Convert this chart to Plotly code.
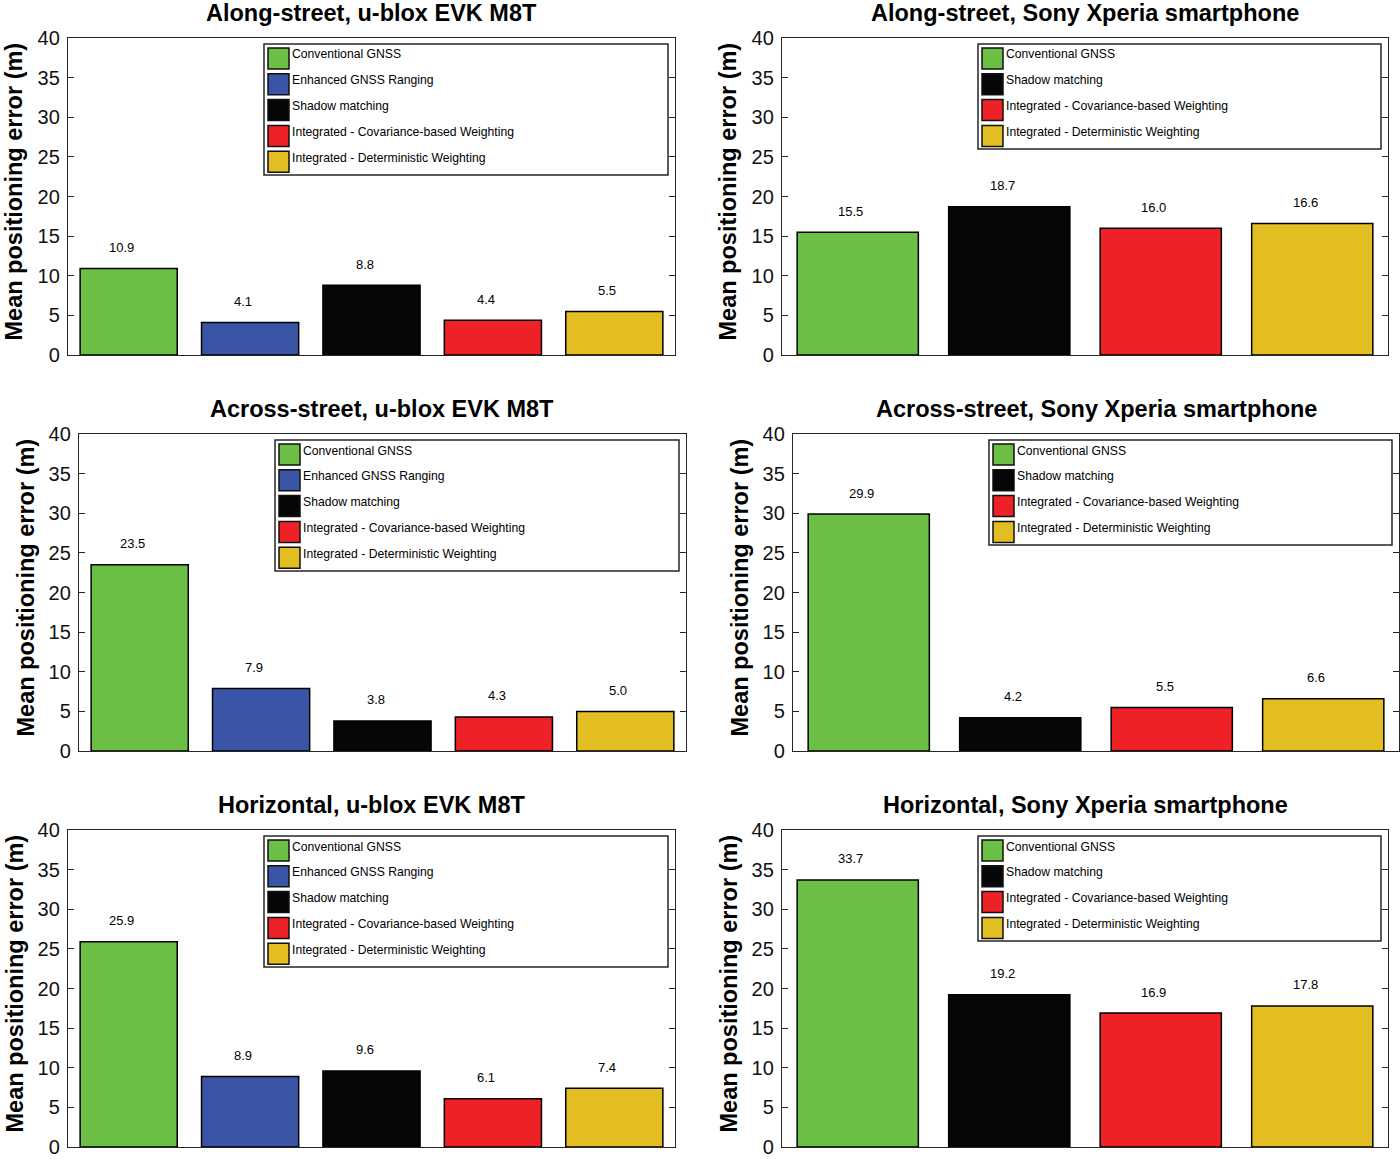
import plotly.graph_objects as go

# ---------------- data ----------------
labels_ublox = ["Conventional GNSS", "Enhanced GNSS Ranging", "Shadow matching",
                "Integrated - Covariance-based Weighting", "Integrated - Deterministic Weighting"]
labels_sony = ["Conventional GNSS", "Shadow matching",
               "Integrated - Covariance-based Weighting", "Integrated - Deterministic Weighting"]

along_ublox = [10.9, 4.1, 8.8, 4.4, 5.5]
along_sony = [15.5, 18.7, 16.0, 16.6]
across_ublox = [23.5, 7.9, 3.8, 4.3, 5.0]
across_sony = [29.9, 4.2, 5.5, 6.6]
horiz_ublox = [25.9, 8.9, 9.6, 6.1, 7.4]
horiz_sony = [33.7, 19.2, 16.9, 17.8]

titles = ["Along-street, u-blox EVK M8T", "Along-street, Sony Xperia smartphone",
          "Across-street, u-blox EVK M8T", "Across-street, Sony Xperia smartphone",
          "Horizontal, u-blox EVK M8T", "Horizontal, Sony Xperia smartphone"]
y_title = "Mean positioning error (m)"
y_ticks = [0, 5, 10, 15, 20, 25, 30, 35, 40]

colors = {
    "Conventional GNSS": "#6bbf45",
    "Enhanced GNSS Ranging": "#3a55a6",
    "Shadow matching": "#060608",
    "Integrated - Covariance-based Weighting": "#ed2126",
    "Integrated - Deterministic Weighting": "#e3be22",
}

panels_data = [
    (along_ublox, labels_ublox), (along_sony, labels_sony),
    (across_ublox, labels_ublox), (across_sony, labels_sony),
    (horiz_ublox, labels_ublox), (horiz_sony, labels_sony),
]

# ---------------- layout geometry (pixels) ----------------
W, H = 1400, 1159
frames = [
    (68, 675, 38, 355), (782, 1388, 38, 355),
    (79, 686, 434, 751), (793, 1399, 434, 751),
    (68, 675, 830, 1147), (782, 1388, 830, 1147),
]
FONT = "Liberation Sans, Arial, Helvetica, sans-serif"
LINE = "#262626"


def px(x):
    return x / W


def py(y):
    return 1 - y / H


fig = go.Figure()
shapes = []
annotations = []
layout = {}

for i, ((vals, labs), (l, r, t, b), title) in enumerate(zip(panels_data, frames, titles)):
    n = len(vals)
    sfx = "" if i == 0 else str(i + 1)
    xs = list(range(1, n + 1))
    fig.add_trace(go.Bar(
        x=xs, y=vals, width=0.8,
        marker=dict(color=[colors[c] for c in labs], line=dict(color="black", width=1.5)),
        xaxis="x" + sfx, yaxis="y" + sfx, showlegend=False,
        hovertext=labs, hoverinfo="text+y",
    ))
    layout["xaxis" + sfx] = dict(
        domain=[px(l), px(r)], anchor="y" + sfx, range=[0.5, n + 0.5],
        showline=True, mirror=True, linecolor=LINE, linewidth=1.3,
        showticklabels=False, ticks="", showgrid=False, zeroline=False, fixedrange=True,
    )
    layout["yaxis" + sfx] = dict(
        domain=[py(b), py(t)], anchor="x" + sfx, range=[0, 40],
        tickvals=y_ticks, ticks="inside", ticklen=6, tickcolor=LINE, tickwidth=1.3,
        showline=True, mirror="ticks", linecolor=LINE, linewidth=1.3,
        showgrid=False, zeroline=False, tickfont=dict(size=20, color="#111111", family=FONT),
        ticklabelstandoff=3, fixedrange=True,
    )
    # value labels
    for x, v in zip(xs, vals):
        annotations.append(dict(
            x=x, y=v, xref="x" + sfx, yref="y" + sfx, text=f"{v:.1f}", showarrow=False,
            yshift=21, xshift=-7, yanchor="middle", font=dict(size=13, color="black", family=FONT),
        ))
    # title
    annotations.append(dict(
        x=px((l + r) / 2), y=py(t - 25), xref="paper", yref="paper", text=f"<b>{title}</b>",
        showarrow=False, xanchor="center", yanchor="middle",
        font=dict(size=23.5, color="black", family=FONT),
    ))
    # y axis title
    annotations.append(dict(
        x=px(l - 54), y=py((t + b) / 2 - 5), xref="paper", yref="paper", text=f"<b>{y_title}</b>",
        showarrow=False, textangle=-90, xanchor="center", yanchor="middle",
        font=dict(size=23.5, color="black", family=FONT),
    ))
    # legend box
    bx0, bx1 = l + 196, r - 7
    by0 = t + 6
    by1 = by0 + 26 * n + 1
    shapes.append(dict(type="rect", xref="paper", yref="paper",
                       x0=px(bx0), x1=px(bx1), y0=py(by1), y1=py(by0),
                       line=dict(color=LINE, width=1.5), fillcolor="white", layer="above"))
    for k, lab in enumerate(labs):
        sy0 = by0 + 4 + 25.8 * k
        sy1 = sy0 + 21
        shapes.append(dict(type="rect", xref="paper", yref="paper",
                           x0=px(bx0 + 4), x1=px(bx0 + 25), y0=py(sy1), y1=py(sy0),
                           line=dict(color="#111111", width=1.5), fillcolor=colors[lab], layer="above"))
        annotations.append(dict(
            x=px(bx0 + 26), y=py((sy0 + sy1) / 2 - 4), xref="paper", yref="paper", text=lab,
            showarrow=False, xanchor="left", yanchor="middle",
            font=dict(size=12.2, color="black", family=FONT),
        ))

fig.update_layout(
    width=W, height=H, margin=dict(l=0, r=0, t=0, b=0, autoexpand=False),
    paper_bgcolor="white", plot_bgcolor="white",
    shapes=shapes, annotations=annotations, bargap=0.2,
    font=dict(family=FONT), **layout,
)

fig.write_html("out.html", config={"displayModeBar": False},
               post_script="document.body.style.margin='0px';")
